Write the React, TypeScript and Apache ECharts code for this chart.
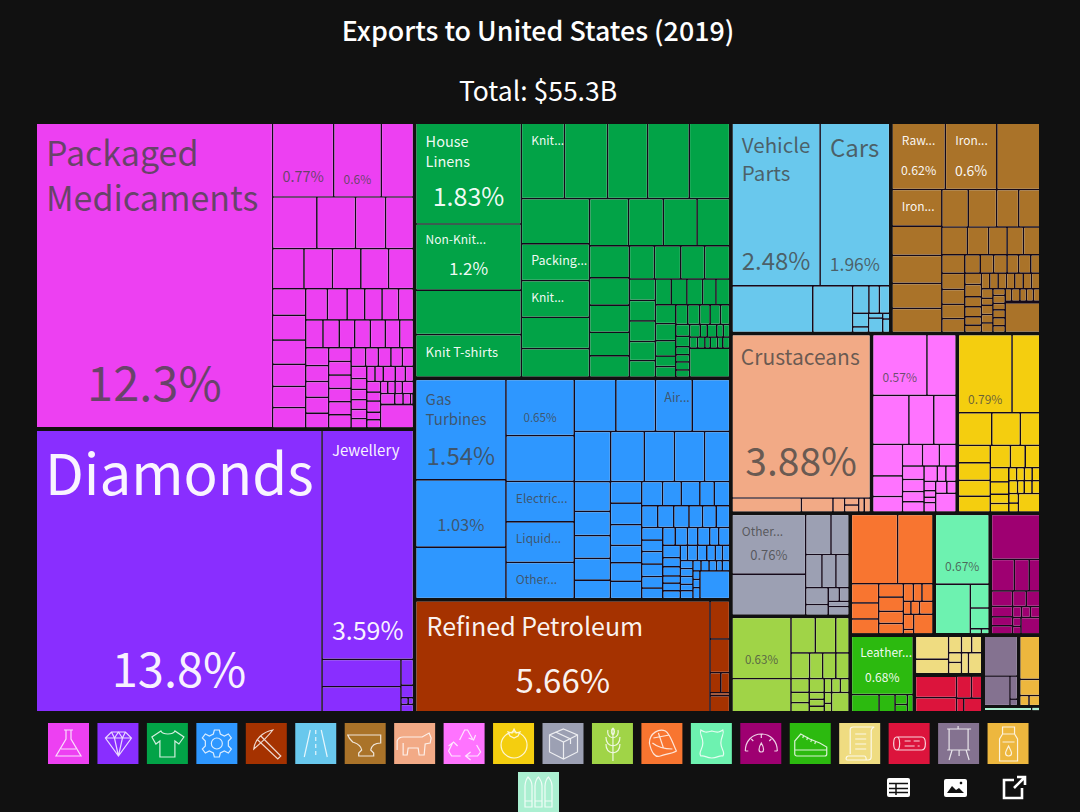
import React, { useEffect, useRef } from "react";
import * as echarts from "echarts";

const FONT = '"Noto Sans CJK SC", "Source Sans Pro", "Noto Sans", sans-serif';
const BG = "#111111";

const titleText = "Exports to United States (2019)";
const totalText = "Total: $55.3B";

const chemicalValues = [12.3, .77, .6, .405, .39, .34, .265, .245, .215, .195, .195, .19, .17, .15, .14, .137, .125, .12, .115, .115, .105, .094, .092, .088, .079, .082, .077, .074, .074, .071, .069, .065, .07, .062, .062, .062, .058, .052, .052, .051, .051, .05, .05, .046, .04, .04, .036, .035, .033, .029, .028, .026, .025, .025, .021, .021, .031, .026, .021, .025, .021, .026, .018, .019, .015, .015, .015, .023, .026, .015, .014, .005, .003, .13];
const preciousValues = [13.8, 3.59, .37, .34, .055, .027, .008, .006, .016];
const textileValues = [1.83, 1.2, .81, .77, .56, .56, .52, .54, .525, .53, .43, .43, .368, .334, .317, .282, .274, .265, .219, .186, .186, .161, .146, .143, .15, .136, .143, .096, .092, .092, .086, .074, .07, .07, .07, .059, .061, .066, .06, .054, .037, .037, .04, .04, .035, .035, .031, .028, .025, .019, .017, .019, .017, .023, .015, .021, .014, .014, .015, .014, .01, .014, .01, .013, .2];
const machineValues = [1.54, 1.03, .79, .65, .53, .47, .47, .42, .368, .349, .324, .331, .311, .286, .257, .257, .214, .184, .148, .14, .134, .114, .115, .115, .11, .093, .098, .093, .086, .077, .077, .059, .064, .059, .059, .056, .05, .05, .05, .045, .041, .045, .045, .041, .038, .037, .037, .031, .036, .027, .033, .037, .027, .027, .021, .023, .023, .019, .026, .025, .022, .019, .019, .017, .017, .017, .014, .017, .014, .014, .013, .01, .013, .01, .01, .013, .14];
const mineralValues = [5.66, .13, .115, .038, .031, .01, .055];
const transportValues = [2.48, 1.96, .65, .32, .077, .049, .049, .038, .015, .012, .035, .007, .016];
const metalValues = [.62, .6, .5, .32, .255, .246, .218, .21, .173, .187, .145, .139, .124, .104, .09, .08, .08, .074, .065, .06, .058, .055, .049, .043, .043, .037, .039, .029, .033, .036, .029, .029, .024, .021, .023, .023, .023, .023, .023, .023, .023, .019, .014, .019, .017, .019, .014, .017, .014, .017, .017, .014, .014, .018, .014, .015, .014, .01, .18];
const animalValues = [3.88, .167, .076, .028, .017, .017, .013, .015];
const plasticValues = [.57, .306, .306, .21, .188, .163, .106, .08, .075, .063, .063, .05, .045, .038, .038, .035, .023, .027, .019, .013, .011, .019, .023, .019, .066];
const foodValues = [.79, .41, .205, .175, .12, .105, .105, .095, .095, .085, .062, .062, .05, .043, .033, .03, .019, .019, .019, .019, .021, .016, .019, .019, .017, .016, .075];
const instrumentValues = [.76, .52, .175, .125, .093, .08, .075, .065, .041, .026, .023, .019, .031];
const vegetableValues = [.63, .34, .15, .127, .082, .083, .059, .059, .059, .043, .033, .029, .036, .018, .018, .015, .018, .021, .021, .014, .011, .059];
const meatValues = [.55, .42, .09, .075, .07, .056, .06, .051, .044, .03, .026, .033, .017, .019, .03, .027, .008, .065];
const hideValues = [.67, .31, .08, .07, .01, .007];
const stoneValues = [.38, .126, .082, .059, .057, .039, .033, .03, .037, .037, .017, .017, .018, .013, .011, .054];
const footwearValues = [.68, .09, .052, .023, .017, .019];
const paperValues = [.135, .086, .038, .03, .03, .022, .026, .026, .05];
const woodValues = [.15, .1, .056, .039, .017, .042];
const artValues = [.215, .124, .028, .008];
const fatValues = [.157, .059, .017, .02];
const armsValues = [.035, .006];

// share of the whole picture that each section takes up
const groupTotals = [19.6, 18.12, 13.63, 11.78, 6.02, 5.69, 5.34, 4.25, 2.59, 2.53, 2.07, 1.94, 1.72, 1.15, 1.04, .84, .46, .44, .43, .27, .06];

const groupColors = ["#ED40F2", "#892EFF", "#02A347", "#2E97FF", "#A53200", "#69C8ED", "#AA7329", "#F2AA86", "#FF73FF", "#F4CE0F", "#9CA0B3", "#A0D447", "#F87530", "#6DF2B0", "#9E0071", "#2CBA0F", "#EFDC81", "#DC143C", "#847290", "#EDB73E", "#ABEFD1"];
const groupValues = [chemicalValues, preciousValues, textileValues, machineValues, mineralValues, transportValues, metalValues, animalValues, plasticValues, foodValues, instrumentValues, vegetableValues, meatValues, hideValues, stoneValues, footwearValues, paperValues, woodValues, artValues, fatValues, armsValues];
const groupNames = ["Chemical Products", "Precious Metals", "Textiles", "Machines", "Mineral Products", "Transportation", "Metals", "Animal Products", "Plastics and Rubbers", "Foodstuffs", "Instruments", "Vegetable Products", "Animal Fats", "Animal Hides", "Stone and Glass", "Footwear", "Paper Goods", "Wood Products", "Arts and Antiques", "Fats and Oils", "Weapons"];
const whiteLabelGroups = [1, 2, 4, 6, 15];

// group, leaf index, name lines, name size, left pad, first line centre, line gap, percent size, percent centre
const cellLabels: any[] = [
  [0, 0, ["Packaged", "Medicaments"], 34, 9, 30, 45, 47, 260],
  [0, 1, [], 0, 0, 0, 0, 14.5, 53],
  [0, 2, [], 0, 0, 0, 0, 12, 55],
  [1, 0, ["Diamonds"], 56.5, 8, 43, 70, 47, 239],
  [1, 1, ["Jewellery"], 15, 9, 19, 18, 25, 200],
  [2, 0, ["House", "Linens"], 14.5, 9, 18, 20, 25, 73],
  [2, 1, ["Non-Knit..."], 12, 9, 15, 16, 17, 44],
  [2, 3, ["Knit T-shirts"], 13, 9, 17, 18, 0, 0],
  [2, 4, ["Knit..."], 12, 9, 16, 16, 0, 0],
  [2, 10, ["Packing..."], 12.5, 9, 16, 16, 0, 0],
  [2, 11, ["Knit..."], 12, 9, 16, 16, 0, 0],
  [3, 0, ["Gas", "Turbines"], 15, 9, 19, 20, 24, 76],
  [3, 1, [], 0, 0, 0, 0, 16.5, 44],
  [3, 3, [], 0, 0, 0, 0, 11.6, 38],
  [3, 5, ["Electric..."], 12, 9, 16, 16, 0, 0],
  [3, 6, ["Liquid..."], 12, 9, 16, 16, 0, 0],
  [3, 7, ["Other..."], 12, 9, 16, 16, 0, 0],
  [3, 10, ["Air..."], 12.5, 8, 17, 16, 0, 0],
  [4, 0, ["Refined Petroleum"], 25, 10, 25, 30, 33, 80],
  [5, 0, ["Vehicle", "Parts"], 20.5, 9, 21, 28, 24, 137],
  [5, 1, ["Cars"], 24, 9, 24, 30, 17.5, 141],
  [6, 0, ["Raw..."], 12, 9, 16, 16, 12.3, 47],
  [6, 1, ["Iron..."], 12, 9, 16, 16, 14, 47],
  [6, 3, ["Iron..."], 12, 9, 16, 16, 0, 0],
  [7, 0, ["Crustaceans"], 21, 8, 22, 26, 39, 126],
  [8, 0, [], 0, 0, 0, 0, 12, 42],
  [9, 0, [], 0, 0, 0, 0, 12, 64],
  [10, 0, ["Other..."], 12, 9, 16, 16, 13, 40],
  [11, 0, [], 0, 0, 0, 0, 11.6, 42],
  [13, 0, [], 0, 0, 0, 0, 12, 51],
  [15, 0, ["Leather..."], 12, 8, 15, 16, 12, 40],
];

const iconPaths = [
  "M16 7H25M18 7V16L8 33H33L23 16V7M13 26H28",
  "M8 15L14 9H28L34 15L21 33ZM8 15H34M14 9L17 15L21 33L25 15L28 9M17 15L21 9L25 15",
  "M14 8L5 14L9 21L13 18V34H28V18L32 21L37 14L28 8C26 12 16 12 14 8Z",
  "M18 7H23L24 11L28 13L32 11L35 15L32 18V23L35 26L32 30L28 28L24 30L23 34H18L17 30L13 28L9 30L6 26L9 23V18L6 15L9 11L13 13L17 11ZM26 20.5A5.5 5.5 0 1 1 15 20.5A5.5 5.5 0 1 1 26 20.5",
  "M8 26C9 16 17 9 27 7C22 14 15 20 8 26ZM15 13L35 33L32 36L12 17",
  "M15 7L9 34M26 7L32 34M20.5 7V11M20.5 14V18M20.5 21V25M20.5 28V32",
  "M3 12H36V20C30 20 27 22 26 27L29 30V33H14V30L17 27C16 21 10 20 8 19C6 17 4 15 3 12Z",
  "M3 27V18C4 15 6 14 9 14H28L35 10L37 15L36 20L31 21L30 32H25L24 25H14L13 32H9V20",
  "M16 17L21 7H24L29 16M25 15L30 17L32 12M33 22L37 29L34 33H23M27 29L22 33L27 37M17 33H8L5 28L9 20M5 23L10 19L14 23",
  "M34 22A13 13 0 1 1 8 22A13 13 0 1 1 34 22M21 6L23 10L27 9L25 13L21 15L17 13L15 9L19 10Z",
  "M21 6L35 12V29L21 36L7 29V12ZM7 12L21 19L35 12M21 19V36M13 9L28 16V21",
  "M21 5V38M21 15C16 14 15 10 16 7M21 15C26 14 27 10 26 7M21 23C15 22 14 18 14 14M21 23C27 22 28 18 28 14M21 30C15 29 14 25 14 21M21 30C27 29 28 25 28 21M21 5C19 7 19 10 21 12C23 10 23 7 21 5",
  "M8 20C8 10 18 5 24 8C29 11 31 20 35 28C30 31 24 31 19 33C14 35 10 30 8 20ZM11 20C16 24 24 26 31 26M17 10L22 25M12 15L28 12",
  "M10 7C13 9 15 10 21 8C27 10 29 9 32 7C34 11 30 13 30 20C30 27 35 29 32 33C28 32 27 35 21 35C15 35 14 32 10 33C7 29 12 27 12 20C12 13 8 11 10 7Z",
  "M5 28C5 18 12 11 21 11C30 11 37 18 37 28M5 28H8M34 28H37M21 20C18 25 18 29 21 29C24 29 24 25 21 20ZM21 11V15M11 16L13 18M31 16L29 18",
  "M5 26V18L11 11L20 16L30 20L37 24V31C37 32 36 33 35 33H7C6 33 5 32 5 31ZM5 27H37M14 12L13 15M18 14L17 17M22 16L21 19M26 18L25 21",
  "M11 31V7C11 5 12 4 14 4H35C33 5 32 6 32 8V34C32 36 31 37 29 37H8C6 37 7 33 9 33H25C27 33 27 36 27 37M16 11H27M16 16H27M16 21H27M16 26H27",
  "M8 14H33C38 14 38 27 33 27H8C4 27 4 14 8 14ZM8 14C12 14 12 27 8 27M16 18H22M16 23H26M25 18H31M29 23H31",
  "M20 3V6M9 6H33M11 6V27H30V6M9 27H32M14 27L11 37M28 27L31 37M21 27V33",
  "M15 4H27V11H15ZM15 11L12 16V38H30V16L27 11M15 19H27M21 23C19 27 18 29 18 30C18 34 24 34 24 30C24 29 23 27 21 23Z",
  "M7 35V14C7 10 9 6 10 5C12 7 14 11 14 14V35ZM7 29H14M17 35V14C17 10 19 6 20.5 5C22 7 24 11 24 14V35ZM17 29H24M27 35V14C27 10 29 6 30.5 5C32 7 34 11 34 14V35ZM27 29H34",
];
iconPaths.forEach((d, i) => {
  echarts.graphic.registerShape("icon" + i, echarts.graphic.extendPath(d, {}));
});
echarts.graphic.registerShape("btnOut", echarts.graphic.extendPath("M12 4H2V22H20V12M12 12L23 1M15 1H23V9", {}));

const raise = (size: number) => Math.max(1, 0.07 * size);

function buildLabel(g: number, spec: any, value: number) {
  const [, , lines, nameSize, pad, nameY, gap, pctSize, pctY] = spec;
  const color = whiteLabelGroups.includes(g) ? "rgba(255,255,255,0.95)" : "rgba(68,68,68,0.78)";
  const rich: any = {};
  const parts: string[] = [];
  let cursor = 0;
  lines.forEach((line: string, i: number) => {
    const top = Math.max(nameY - raise(nameSize) + i * gap - nameSize / 2 - cursor, 0);
    rich["n" + i] = { fontFamily: FONT, fontSize: nameSize, color, padding: [top, 0, 0, pad] };
    parts.push(`{n${i}|${line}}`);
    cursor += top + nameSize;
  });
  if (pctSize) {
    rich.p = { fontFamily: FONT, fontSize: pctSize, color, align: "center", padding: [Math.max(pctY - raise(pctSize) - pctSize / 2 - cursor, 0), 0, 0, 0] };
    parts.push(`{p|${value}%}`);
  }
  return { show: true, position: "insideTopLeft", distance: 0, padding: 0, formatter: parts.join("\n"), rich };
}

function buildData() {
  return groupValues.map((values, g) => ({
    name: groupNames[g],
    value: groupTotals[g],
    children: values.map((value, i) => {
      const spec = cellLabels.find((c) => c[0] === g && c[1] === i);
      return {
        name: `${groupNames[g]} ${i + 1}`,
        value,
        itemStyle: { color: groupColors[g] },
        label: spec ? buildLabel(g, spec, value) : { show: false },
      };
    }),
  }));
}

function buildGraphic() {
  const els: any[] = [];
  const stroke = "rgba(255,255,255,0.82)";
  groupColors.forEach((color, i) => {
    const x = i < 20 ? 48 + i * 49.45 : 518;
    const y = i < 20 ? 723 : 772;
    els.push({ type: "rect", x, y, shape: { x: 0, y: 0, width: 41, height: 41 }, style: { fill: color } });
    els.push({ type: "icon" + i, x, y, style: { fill: "none", stroke, lineWidth: 1.2 } });
  });
  els.push({ type: "rect", shape: { x: 887, y: 778, width: 23, height: 19, r: 2 }, style: { fill: "#fff" } });
  [[889, 783.5, 908, 783.5], [889, 788.5, 908, 788.5], [889, 792.5, 908, 792.5], [896, 783.5, 896, 795]].forEach(([x1, y1, x2, y2]) =>
    els.push({ type: "line", shape: { x1, y1, x2, y2 }, style: { stroke: BG, lineWidth: 1.5 } }));
  els.push({ type: "rect", shape: { x: 944, y: 779, width: 23, height: 18, r: 2 }, style: { fill: "#fff" } });
  els.push({ type: "polygon", shape: { points: [[947, 793], [952, 786], [956, 790], [959, 788], [964, 793]] }, style: { fill: BG } });
  els.push({ type: "circle", shape: { cx: 961, cy: 783, r: 1.3 }, style: { fill: BG } });
  els.push({ type: "btnOut", x: 1002, y: 776, style: { fill: "none", stroke: "#fff", lineWidth: 2.6 } });
  return els;
}

export default function App() {
  const ref = useRef<HTMLDivElement>(null);
  useEffect(() => {
    document.body.style.margin = "0";
    document.body.style.background = BG;
    document.documentElement.style.overflow = "hidden";
    const chart = echarts.init(ref.current!, undefined, { renderer: "svg" });
    chart.setOption({
      animation: false,
      backgroundColor: BG,
      title: [
        { text: titleText, left: 533, top: 11, textAlign: "center", textStyle: { fontFamily: FONT, fontSize: 26.8, fontWeight: 500, color: "#fff" } },
        { text: totalText, left: 533, top: 71, textAlign: "center", textStyle: { fontFamily: FONT, fontSize: 26.5, fontWeight: 400, color: "#fff" } },
      ],
      graphic: buildGraphic(),
      series: [
        {
          type: "treemap",
          left: 37,
          top: 124,
          width: 1002,
          height: 587,
          sort: false,
          roam: false,
          nodeClick: false,
          visibleMin: 0,
          squareRatio: 0.5 * (1 + Math.sqrt(5)),
          breadcrumb: { show: false },
          emphasis: { disabled: true },
          upperLabel: { show: false },
          label: { show: false },
          levels: [
            { itemStyle: { gapWidth: 4, borderWidth: 0, borderColor: BG } },
            { itemStyle: { gapWidth: 1.7, borderWidth: 0, borderColor: "#14091a" } },
            { itemStyle: { gapWidth: 0, borderWidth: 0 } },
          ],
          data: buildData(),
        },
      ],
    });
    return () => chart.dispose();
  }, []);
  return <div ref={ref} style={{ width: 1080, height: 812 }} />;
}
